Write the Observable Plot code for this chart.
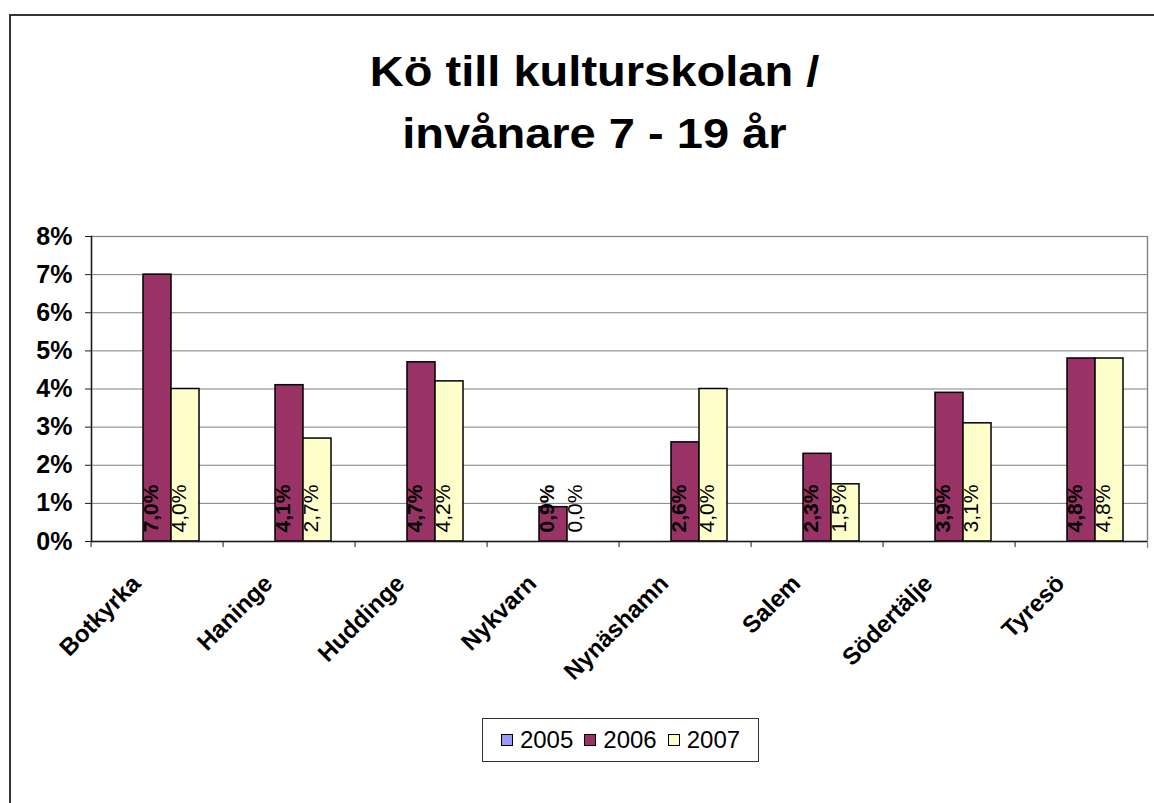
<!DOCTYPE html>
<html>
<head>
<meta charset="utf-8">
<script src="https://cdn.jsdelivr.net/npm/d3@7"></script>
<script src="https://cdn.jsdelivr.net/npm/@observablehq/plot@0.6"></script>
<style>
  html, body { margin: 0; padding: 0; background: #fff; overflow: hidden; width: 1154px; height: 803px; }
  body { position: relative; font-family: "Liberation Sans", Arial, sans-serif; }
  #border { position: absolute; left: 9px; top: 14px; width: 1180px; height: 900px; border: 2px solid #333; box-sizing: border-box; }
  #title { position: absolute; left: 9px; top: 41px; width: 1171px; text-align: center; font-weight: bold; font-size: 42px; line-height: 62px; color: #000; transform: scaleX(1.12); }
  #chart { position: absolute; left: 0; top: 200px; }
  #legend { position: absolute; left: 482px; top: 718px; width: 277px; height: 44px; border: 1.5px solid #333; box-sizing: border-box; display: flex; align-items: center; justify-content: center; gap: 11px; font-size: 24px; color: #000; }
  .item { display: flex; align-items: center; gap: 7px; }
  .sw { width: 12px; height: 12px; border: 1.5px solid #000; box-sizing: border-box; }
  g[aria-label="fx-axis tick label"] text { font-weight: bold; }
  g[aria-label="y-axis tick label"] text { font-weight: bold; }
</style>
</head>
<body>
<div id="border"></div>
<div id="title">Kö till kulturskolan /<br>invånare 7 - 19 år</div>
<div id="chart"></div>
<div id="legend"></div>
<script>
const categories = ["Botkyrka", "Haninge", "Huddinge", "Nykvarn", "Nynäshamn", "Salem", "Södertälje", "Tyresö"];
const seriesNames = ["2005", "2006", "2007"];
const seriesColors = ["#9999FF", "#993366", "#FFFFCC"];
const values2005 = [null, null, null, null, null, null, null, null];
const values2006 = [7.0, 4.1, 4.7, 0.9, 2.6, 2.3, 3.9, 4.8];
const values2007 = [4.0, 2.7, 4.2, 0.0, 4.0, 1.5, 3.1, 4.8];
const yTicks = [0, 1, 2, 3, 4, 5, 6, 7, 8];

const seriesValues = [values2005, values2006, values2007];
const data = categories.flatMap((c, i) =>
  seriesNames.map((s, j) => ({category: c, series: s, value: seriesValues[j][i]}))
);
const fmt = v => v.toFixed(1).replace(".", ",") + "%";

const W = 1154, H = 500, ML = 87, MR = 4, MT = 36, MB = 159;
const step = (W - ML - MR) / categories.length;

const chart = Plot.plot({
  width: W, height: H,
  marginLeft: ML, marginRight: MR, marginTop: MT, marginBottom: MB,
  style: {fontFamily: "'Liberation Sans', Arial, sans-serif", background: "transparent", overflow: "visible", color: "#000"},
  fx: {domain: categories, padding: 0, label: null},
  x: {domain: seriesNames, paddingInner: 0, paddingOuter: 0.79, axis: null},
  y: {domain: [0, 8], label: null},
  color: {domain: seriesNames, range: seriesColors},
  marks: [
    Plot.gridY(yTicks, {stroke: "#808080", strokeOpacity: 1, strokeWidth: 1}),
    Plot.frame({stroke: "#808080", strokeWidth: 1.2, facet: "super"}),
    Plot.frame({anchor: "right", stroke: "#808080", strokeWidth: 1.2, insetBottom: -6, facet: "super"}),
    Plot.barY(data.filter(d => d.value != null), {
      fx: "category", x: "series", y: "value", fill: "series",
      stroke: "#000", strokeWidth: 1.5
    }),
    Plot.frame({anchor: "left", stroke: "#1a1a1a", strokeWidth: 1.5, facet: "super"}),
    Plot.ruleY([0], {stroke: "#1a1a1a", strokeWidth: 1.5}),
    Plot.axisY({
      ticks: yTicks, tickFormat: d => d + "%", tickSize: 6, tickPadding: 13,
      fontSize: 25, stroke: "#1a1a1a", label: null
    }),
    Plot.axisFx({
      anchor: "bottom", tickSize: 6, tickFormat: () => "", dx: -step / 2,
      stroke: "#1a1a1a", label: null
    }),
    Plot.axisFx({
      anchor: "bottom", tickSize: 0, tickPadding: 38, tickRotate: -45, dx: -21,
      fontSize: 24, label: null
    }),
    Plot.text(data.filter(d => d.series === "2006" && d.value != null), {
      fx: "category", x: "series", text: d => fmt(d.value),
      frameAnchor: "bottom", rotate: -90, textAnchor: "start", dy: -9,
      fontSize: 21, fontWeight: "bold", fill: "#000"
    }),
    Plot.text(data.filter(d => d.series === "2007" && d.value != null), {
      fx: "category", x: "series", text: d => fmt(d.value),
      frameAnchor: "bottom", rotate: -90, textAnchor: "start", dy: -9,
      fontSize: 21, fill: "#000"
    })
  ]
});
document.getElementById("chart").appendChild(chart);

const legend = document.getElementById("legend");
seriesNames.forEach((s, i) => {
  const item = document.createElement("div");
  item.className = "item";
  const sw = document.createElement("span");
  sw.className = "sw";
  sw.style.background = seriesColors[i];
  const t = document.createElement("span");
  t.textContent = s;
  item.appendChild(sw);
  item.appendChild(t);
  legend.appendChild(item);
});
</script>
</body>
</html>
